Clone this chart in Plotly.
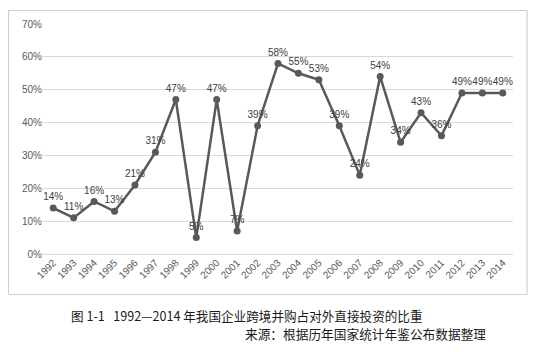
import plotly.graph_objects as go

years = [str(y) for y in range(1992, 2015)]
share_pct = [14, 11, 16, 13, 21, 31, 47, 5, 47, 7, 39, 58, 55, 53, 39, 24, 54, 34, 43, 36, 49, 49, 49]
y_ticks = [0, 10, 20, 30, 40, 50, 60, 70]
caption = "图 1-1   1992—2014 年我国企业跨境并购占对外直接投资的比重"
source = "来源：根据历年国家统计年鉴公布数据整理"

# page body has an 8px default margin; work in page pixels and convert
OFF = 8
PW, PH = 537, 362
W, H = PW - OFF, PH - OFF
# plot area in page pixels
X0, X1, Y0, Y1 = 43, 513, 24, 254
L, R, T, B = X0 - OFF, PW - X1, Y0 - OFF, PH - Y1
pw, ph = X1 - X0, Y1 - Y0

def px(x):
    return (x - X0) / pw

def py(y):
    return (Y1 - y) / ph

fig = go.Figure()
fig.add_trace(go.Scatter(
    x=years, y=share_pct,
    mode="lines+markers+text",
    text=[f"{v}%" for v in share_pct],
    textposition="top center",
    textfont=dict(size=10, color="#404040", family="Liberation Sans, Arial"),
    line=dict(color="#595959", width=2.5),
    marker=dict(color="#595959", size=7),
    cliponaxis=False,
    hoverinfo="skip",
))

border = dict(color="#cfcfcf", width=1.2)
bx0, bx1, by0, by1 = px(8.5), px(527), py(294.5), py(10.5)

fig.update_layout(
    width=W, height=H,
    margin=dict(l=L, r=R, t=T, b=B, autoexpand=False),
    paper_bgcolor="white", plot_bgcolor="white",
    showlegend=False,
    font=dict(family="Liberation Sans, Arial", color="#595959"),
    xaxis=dict(
        type="category", tickangle=-45, showgrid=False, showline=False,
        tickfont=dict(size=10, color="#595959"), ticks="", ticklen=0,
        range=[-0.5, len(years) - 0.5], automargin=False,
    ),
    yaxis=dict(
        range=[0, 70], tickvals=y_ticks, ticktext=[f"{v}%" for v in y_ticks],
        showgrid=True, gridcolor="#d9d9d9", gridwidth=1,
        zeroline=True, zerolinecolor="#d9d9d9", zerolinewidth=1,
        showline=False, tickfont=dict(size=10, color="#595959"), ticks="",
        automargin=False,
    ),
    shapes=[
        dict(type="line", xref="paper", yref="paper", x0=bx0, x1=bx1, y0=by1, y1=by1, line=border),
        dict(type="line", xref="paper", yref="paper", x0=bx0, x1=bx1, y0=by0, y1=by0, line=border),
        dict(type="line", xref="paper", yref="paper", x0=bx0, x1=bx0, y0=by0, y1=by1, line=border),
        dict(type="line", xref="paper", yref="paper", x0=bx1, x1=bx1, y0=by0, y1=by1, line=border),
    ],
    annotations=[
        dict(text=caption, xref="paper", yref="paper", x=px(247), y=py(315),
             xanchor="center", yanchor="middle", showarrow=False,
             font=dict(size=12.6, color="#1a1a1a", family="Noto Sans CJK SC")),
        dict(text=source, xref="paper", yref="paper", x=px(488), y=py(333),
             xanchor="right", yanchor="middle", showarrow=False,
             font=dict(size=12.7, color="#1a1a1a", family="Noto Sans CJK SC")),
    ],
)

fig.write_html("out.html")
